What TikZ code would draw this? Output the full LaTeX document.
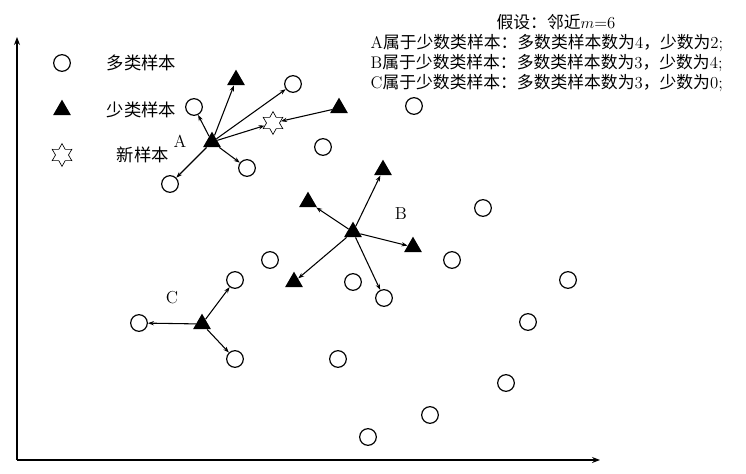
\documentclass[tikz,border=0pt]{standalone}
\usepackage{fontspec}
\newfontfamily\cjk{Noto Sans CJK SC}
\usetikzlibrary{shapes.geometric,arrows.meta}
\begin{document}
\begin{tikzpicture}[x=0.75pt,y=-0.75pt,
    major/.style={draw,circle,line width=0.9pt,minimum size=12.5pt,inner sep=0pt},
    minor/.style={fill,regular polygon,regular polygon sides=3,minimum size=15.5pt,inner sep=0pt},
    newpt/.style={draw,star,star points=6,star point ratio=1.75,minimum size=17pt,inner sep=0pt,line width=0.5pt},
    lbl/.style={font=\fontsize{13}{15}\selectfont},
    note/.style={font=\fontsize{12.6}{15}\selectfont},
    >={Stealth[length=4.5pt,width=3.2pt]}]
      \useasboundingbox (0,0) rectangle (746,474);
      % axes
      \coordinate (O) at (17,460);
      \coordinate (Ytop) at (17,37);
      \coordinate (Xend) at (600,460);
      \draw[line width=0.9pt,-{Stealth[length=6pt,width=4.5pt]}] (O) -- (Ytop);
      \draw[line width=0.9pt,-{Stealth[length=6pt,width=4.5pt]}] (O) -- (Xend);
      % legend
      \node[major] (Lmaj) at (62,63) {};
      \node[lbl,anchor=west] (Tmaj) at (102,63) {\cjk 多类样本};
      \node[minor] (Lmin) at (62,110) {};
      \node[lbl,anchor=west] (Tmin) at (102,110) {\cjk 少类样本};
      \node[newpt] (Lnew) at (62,155) {};
      \node[lbl,anchor=west] (Tnew) at (112,155) {\cjk 新样本};
      % notes
      \node[note] (N0) at (556,22) {{\cjk 假设：邻近}\(m\)=6};
      \node[note,anchor=west] (N1) at (366,43) {A{\cjk 属于少数类样本：多数类样本数为}4{\cjk ，少数为}2;};
      \node[note,anchor=west] (N2) at (366,63) {B{\cjk 属于少数类样本：多数类样本数为}3{\cjk ，少数为}4;};
      \node[note,anchor=west] (N3) at (366,83) {C{\cjk 属于少数类样本：多数类样本数为}3{\cjk ，少数为}0;};
      % majority samples
      \node[major] (m1) at (194,107) {};
      \node[major] (m2) at (293,84) {};
      \node[major] (m3) at (247,168) {};
      \node[major] (m4) at (170,184) {};
      \node[major] (m5) at (323,147) {};
      \node[major] (m6) at (414,106) {};
      \node[major] (m7) at (483,208) {};
      \node[major] (m8) at (452,260) {};
      \node[major] (m9) at (270,260) {};
      \node[major] (m10) at (235,280) {};
      \node[major] (m11) at (353,282) {};
      \node[major] (m12) at (384,298) {};
      \node[major] (m13) at (568,280) {};
      \node[major] (m14) at (528,322) {};
      \node[major] (m15) at (139,323) {};
      \node[major] (m16) at (235,359) {};
      \node[major] (m17) at (338,359) {};
      \node[major] (m18) at (506,383) {};
      \node[major] (m19) at (430,415) {};
      \node[major] (m20) at (368,437) {};
      % minority samples
      \node[minor] (A) at (212,142) {};
      \node[minor] (s1) at (236,80) {};
      \node[minor] (s2) at (339,108) {};
      \node[minor] (s3) at (383,170) {};
      \node[minor] (s4) at (308,202) {};
      \node[minor] (B) at (353,232) {};
      \node[minor] (s5) at (413,247) {};
      \node[minor] (s6) at (294,282) {};
      \node[minor] (C) at (202,324) {};
      \node[newpt] (new) at (273,123) {};
      % labels
      \node[lbl] (la) at (180,141) {A};
      \node[lbl] (lb) at (401,214) {B};
      \node[lbl] (lc) at (172,298) {C};
      % neighbours
      \draw[line width=0.8pt,->] (A) -- (m1);
      \draw[line width=0.8pt,->] (A) -- (s1);
      \draw[line width=0.8pt,->] (A) -- (m2);
      \draw[line width=0.8pt,->] (A) -- (new);
      \draw[line width=0.8pt,->] (s2) -- (new);
      \draw[line width=0.8pt,->] (A) -- (m3);
      \draw[line width=0.8pt,->] (A) -- (m4);
      \draw[line width=0.8pt,->] (B) -- (s3);
      \draw[line width=0.8pt,->] (B) -- (s4);
      \draw[line width=0.8pt,->] (B) -- (s5);
      \draw[line width=0.8pt,->] (B) -- (s6);
      \draw[line width=0.8pt,->] (B) -- (m12);
      \draw[line width=0.8pt,->] (C) -- (m10);
      \draw[line width=0.8pt,->] (C) -- (m15);
      \draw[line width=0.8pt,->] (C) -- (m16);
    \end{tikzpicture}
\end{document}
